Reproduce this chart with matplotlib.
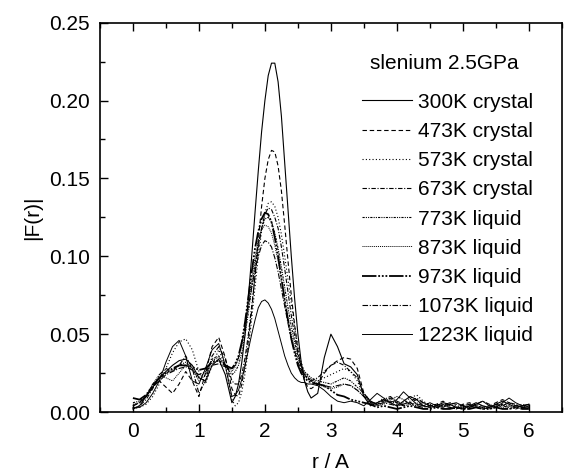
import numpy as np
import matplotlib
matplotlib.use("Agg")
import matplotlib.pyplot as plt
from matplotlib.ticker import MultipleLocator, FormatStrFormatter

plt.rcParams['font.family'] = ['Liberation Sans', 'DejaVu Sans']

# r grid (Angstrom): 0.1 steps, 0.05 steps across the main peak
r = np.concatenate([np.linspace(0.0, 1.4, 15),
                    np.linspace(1.5, 2.65, 24),
                    np.linspace(2.7, 6.0, 34)])

labels = ["300K crystal", "473K crystal", "573K crystal", "673K crystal",
          "773K liquid", "873K liquid", "973K liquid", "1073K liquid",
          "1223K liquid"]

f_300 = [0.002, 0.004, 0.010, 0.016, 0.022, 0.026, 0.030, 0.033, 0.034, 0.030,
         0.022, 0.020, 0.030, 0.034, 0.024,
         0.006, 0.010, 0.018, 0.032, 0.050, 0.074, 0.100, 0.128, 0.155, 0.180,
         0.200, 0.216, 0.224, 0.224, 0.212, 0.190, 0.160, 0.130, 0.100, 0.073,
         0.050, 0.032, 0.020, 0.013,
         0.009, 0.012, 0.035, 0.050, 0.042, 0.031, 0.029, 0.024, 0.010,
         0.004, 0.006, 0.008, 0.006, 0.004, 0.007, 0.010, 0.008, 0.004, 0.003,
         0.004, 0.006, 0.005, 0.003, 0.002, 0.004, 0.006, 0.004, 0.003, 0.005,
         0.007, 0.005, 0.003, 0.004, 0.005]
f_473 = [0.004, 0.006, 0.010, 0.018, 0.020, 0.016, 0.012, 0.018, 0.026, 0.020,
         0.010, 0.025, 0.042, 0.048, 0.035,
         0.015, 0.011, 0.010, 0.018, 0.030, 0.046, 0.065, 0.088, 0.110, 0.132,
         0.150, 0.162, 0.168, 0.167, 0.158, 0.142, 0.120, 0.097, 0.075, 0.056,
         0.040, 0.028, 0.020, 0.016,
         0.015, 0.018, 0.025, 0.030, 0.033, 0.035, 0.034, 0.028, 0.012,
         0.006, 0.005, 0.007, 0.009, 0.006, 0.004, 0.006, 0.008, 0.006, 0.004,
         0.005, 0.007, 0.004, 0.003, 0.005, 0.006, 0.004, 0.003, 0.004, 0.006,
         0.008, 0.006, 0.004, 0.003, 0.004]
f_573 = [0.002, 0.003, 0.005, 0.010, 0.018, 0.028, 0.038, 0.045, 0.047, 0.040,
         0.026, 0.018, 0.030, 0.040, 0.030,
         0.008, 0.004, 0.006, 0.013, 0.025, 0.041, 0.060, 0.080, 0.100, 0.116,
         0.128, 0.134, 0.135, 0.132, 0.125, 0.114, 0.100, 0.085, 0.070, 0.055,
         0.042, 0.032, 0.025, 0.022,
         0.020, 0.020, 0.022, 0.024, 0.026, 0.028, 0.026, 0.020, 0.010,
         0.005, 0.006, 0.009, 0.007, 0.005, 0.006, 0.009, 0.011, 0.007, 0.004,
         0.003, 0.005, 0.006, 0.004, 0.003, 0.004, 0.005, 0.004, 0.002, 0.003,
         0.005, 0.006, 0.004, 0.003, 0.004]
f_673 = [0.002, 0.004, 0.008, 0.015, 0.024, 0.028, 0.026, 0.030, 0.036, 0.028,
         0.012, 0.020, 0.036, 0.042, 0.034,
         0.020, 0.018, 0.018, 0.024, 0.035, 0.050, 0.068, 0.087, 0.105, 0.118,
         0.127, 0.131, 0.130, 0.125, 0.118, 0.106, 0.092, 0.077, 0.062, 0.049,
         0.038, 0.030, 0.024, 0.021,
         0.020, 0.022, 0.026, 0.030, 0.032, 0.030, 0.026, 0.022, 0.012,
         0.007, 0.005, 0.008, 0.010, 0.007, 0.005, 0.007, 0.009, 0.006, 0.004,
         0.003, 0.004, 0.006, 0.005, 0.004, 0.003, 0.005, 0.007, 0.005, 0.003,
         0.004, 0.006, 0.005, 0.003, 0.003]
f_773 = [0.006, 0.007, 0.010, 0.016, 0.022, 0.025, 0.027, 0.030, 0.032, 0.028,
         0.020, 0.024, 0.034, 0.036, 0.030,
         0.024, 0.026, 0.030, 0.038, 0.050, 0.064, 0.080, 0.095, 0.108, 0.118,
         0.124, 0.125, 0.122, 0.115, 0.105, 0.093, 0.080, 0.067, 0.055, 0.045,
         0.036, 0.030, 0.026, 0.024,
         0.022, 0.020, 0.019, 0.018, 0.020, 0.022, 0.020, 0.016, 0.012,
         0.007, 0.004, 0.006, 0.008, 0.010, 0.008, 0.005, 0.004, 0.006, 0.005,
         0.003, 0.004, 0.005, 0.003, 0.002, 0.003, 0.004, 0.003, 0.002, 0.004,
         0.005, 0.004, 0.002, 0.003, 0.003]
f_873 = [0.005, 0.006, 0.010, 0.018, 0.024, 0.022, 0.020, 0.025, 0.030, 0.027,
         0.022, 0.026, 0.033, 0.035, 0.030,
         0.026, 0.029, 0.034, 0.043, 0.055, 0.070, 0.085, 0.099, 0.110, 0.117,
         0.120, 0.119, 0.115, 0.107, 0.097, 0.085, 0.072, 0.060, 0.050, 0.041,
         0.034, 0.029, 0.025, 0.023,
         0.021, 0.018, 0.016, 0.015, 0.016, 0.018, 0.017, 0.014, 0.010,
         0.006, 0.004, 0.005, 0.007, 0.006, 0.004, 0.005, 0.006, 0.004, 0.003,
         0.004, 0.005, 0.003, 0.002, 0.003, 0.004, 0.003, 0.002, 0.003, 0.004,
         0.003, 0.002, 0.003, 0.004, 0.002]
f_973 = [0.009, 0.008, 0.011, 0.017, 0.022, 0.025, 0.028, 0.030, 0.030, 0.029,
         0.027, 0.028, 0.032, 0.033, 0.030,
         0.028, 0.031, 0.036, 0.045, 0.058, 0.074, 0.090, 0.105, 0.116, 0.124,
         0.128, 0.127, 0.122, 0.112, 0.100, 0.086, 0.072, 0.059, 0.047, 0.038,
         0.030, 0.025, 0.022, 0.020,
         0.019, 0.018, 0.017, 0.014, 0.011, 0.010, 0.008, 0.007, 0.006,
         0.005, 0.003, 0.004, 0.003, 0.002, 0.003, 0.004, 0.003, 0.002, 0.002,
         0.003, 0.002, 0.002, 0.003, 0.002, 0.002, 0.003, 0.002, 0.002, 0.003,
         0.002, 0.002, 0.003, 0.002, 0.002]
f_1073 = [0.004, 0.006, 0.010, 0.016, 0.020, 0.024, 0.026, 0.028, 0.029, 0.027,
          0.024, 0.026, 0.030, 0.031, 0.029,
          0.028, 0.030, 0.035, 0.044, 0.055, 0.068, 0.080, 0.091, 0.100, 0.107,
          0.110, 0.109, 0.106, 0.099, 0.090, 0.079, 0.068, 0.057, 0.047, 0.039,
          0.032, 0.027, 0.024, 0.022,
          0.020, 0.018, 0.017, 0.016, 0.017, 0.018, 0.017, 0.014, 0.010,
          0.007, 0.005, 0.006, 0.005, 0.004, 0.005, 0.006, 0.004, 0.003, 0.004,
          0.005, 0.004, 0.003, 0.002, 0.004, 0.005, 0.003, 0.002, 0.003, 0.005,
          0.004, 0.003, 0.004, 0.005, 0.003]
f_1223 = [0.003, 0.003, 0.006, 0.012, 0.020, 0.032, 0.042, 0.046, 0.036, 0.020,
          0.018, 0.028, 0.040, 0.044, 0.030,
          0.010, 0.011, 0.014, 0.021, 0.030, 0.040, 0.050, 0.059, 0.067, 0.071,
          0.072, 0.070, 0.066, 0.060, 0.052, 0.044, 0.036, 0.030, 0.025, 0.022,
          0.020, 0.019, 0.019, 0.018,
          0.018, 0.017, 0.014, 0.010, 0.007, 0.006, 0.007, 0.006, 0.004,
          0.008, 0.012, 0.009, 0.006, 0.008, 0.013, 0.009, 0.005, 0.004, 0.006,
          0.004, 0.003, 0.005, 0.006, 0.004, 0.003, 0.005, 0.007, 0.004, 0.003,
          0.006, 0.009, 0.006, 0.004, 0.005]

series = [f_300, f_473, f_573, f_673, f_773, f_873, f_973, f_1073, f_1223]

# line styles, roughly following the printed figure
styles = [
    dict(ls="-", lw=0.8),
    dict(ls=(0, (4, 2.5)), lw=0.8),
    dict(ls=(0, (1, 2)), lw=0.8),
    dict(ls=(0, (4, 1.5, 1, 1.5)), lw=0.8),
    dict(ls=(0, (2, 1, 1, 1, 1, 1)), lw=0.8),
    dict(ls=(0, (1, 1)), lw=0.7),
    dict(ls=(0, (8, 1, 1, 1, 1, 1, 1, 1)), lw=1.3),
    dict(ls=(0, (5, 1.5, 1, 1.5)), lw=0.8),
    dict(ls="-", lw=0.7),
]

fig = plt.figure(figsize=(5.71, 4.72), dpi=100)
ax = fig.add_axes([0.175, 0.127, 0.809, 0.825])

for vals, lab, st in zip(series, labels, styles):
    ax.plot(r, vals, color="black", label=lab, **st)

ax.set_xlim(-0.5, 6.5)
ax.set_ylim(0, 0.25)
ax.xaxis.set_major_locator(MultipleLocator(1))
ax.xaxis.set_minor_locator(MultipleLocator(0.5))
ax.yaxis.set_major_locator(MultipleLocator(0.05))
ax.yaxis.set_minor_locator(MultipleLocator(0.025))
ax.yaxis.set_major_formatter(FormatStrFormatter("%.2f"))
ax.tick_params(which="both", direction="in", top=True, right=False,
               labelsize=15, width=1)
ax.tick_params(which="major", length=6, pad=7)
ax.tick_params(which="minor", length=3.5)
for sp in ax.spines.values():
    sp.set_linewidth(1.2)

ax.set_xlabel("r / A", fontsize=15)
ax.set_ylabel("|F(r)|", fontsize=15)
ax.xaxis.set_label_coords(0.5, -0.105)
ax.yaxis.set_label_coords(-0.125, 0.5)

ax.text(0.585, 0.896, "slenium 2.5GPa", transform=ax.transAxes,
        fontsize=15, ha="left", va="center")
ax.legend(loc="upper left", bbox_to_anchor=(0.567, 0.82), frameon=False,
          fontsize=15, handlelength=2.4, handletextpad=0.3,
          labelspacing=0.49, borderpad=0, borderaxespad=0)

fig.savefig("out.png", dpi=100)
